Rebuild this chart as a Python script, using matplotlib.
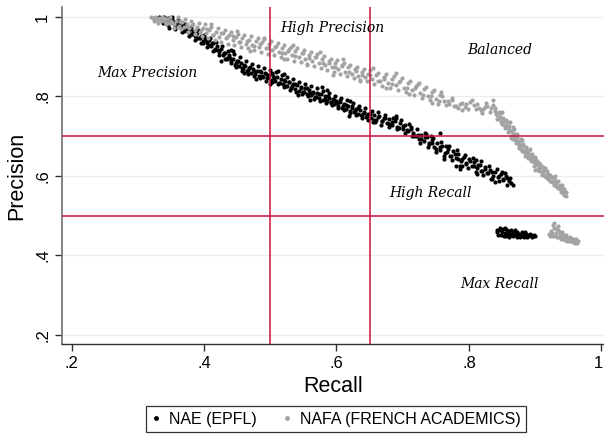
import matplotlib
matplotlib.use("Agg")
import matplotlib.pyplot as plt
import matplotlib.transforms as mtrans

# ---------------- data ----------------
# NAE (EPFL): main band
nae_x = [0.332,0.336,0.340,0.343,0.346,0.349,0.352,0.354,0.357,0.360,0.362,0.365,0.368,0.371,0.373,0.376,0.379,0.382,0.384,0.387,0.390,0.393,0.396,0.399,
         0.402,0.405,0.408,0.411,0.414,0.417,0.420,0.423,0.426,0.429,0.432,0.435,0.438,0.441,0.444,0.447,0.450,0.453,0.456,0.459,0.462,0.465,0.468,0.471,0.474,0.477,0.480,0.483,0.486,0.489,0.492,0.495,0.498,
         0.501,0.504,0.507,0.510,0.513,0.516,0.519,0.522,0.525,0.528,0.531,0.534,0.537,0.540,0.543,0.546,0.549,0.552,0.555,0.558,0.561,0.564,0.567,0.570,0.573,0.576,0.579,0.582,0.585,0.588,0.591,0.594,0.597,0.600,0.603,0.606,0.609,0.612,0.615,0.618,0.621,0.624,0.627,0.630,0.633,0.636,0.639,0.642,0.645,0.648,
         0.652,0.656,0.660,0.664,0.668,0.672,0.676,0.680,0.684,0.688,0.692,0.696,0.700,0.704,0.708,0.712,0.716,
         0.720,0.724,0.728,0.732,0.736,0.740,0.744,0.748,0.752,0.756,0.760,0.764,0.768,0.772,0.776,0.780,0.784,0.788,0.792,0.796,0.800,0.804,0.808,0.812,0.816,0.820,0.824,0.828,0.832,0.836,0.840,0.844,0.848,0.852,0.856,0.860,0.864,
         0.742,0.790,0.812,0.757,0.786,
         0.338,0.345,0.351,0.356,0.361,0.366,0.372,0.377,0.381,0.386,0.391,0.395,0.400,0.404,0.409,0.413,0.418,0.422,0.427,0.431,0.436,0.440,0.445,0.449,0.454,0.458,0.463,0.467,0.472,0.476,0.481,0.485,0.490,0.494,0.499,
         0.503,0.508,0.512,0.517,0.521,0.526,0.530,0.535,0.539,0.544,0.548,0.553,0.557,0.562,0.566,0.571,0.575,0.580,0.584,0.589,0.593,0.598,0.602,0.607,0.611,0.616,0.620,0.625,0.629,0.634,0.638,0.643,0.647,
         0.654,0.658,0.663,0.667,0.674,0.679,0.686,0.691,0.698,0.703,0.710,0.714,0.722,0.726,0.733,0.738,0.746,0.750,0.758,0.762,0.770,0.774,0.782,0.787,0.794,0.799,0.806,0.810,0.818,0.822,0.830,0.834,0.842,0.846,0.854,0.858,0.862,0.866]
nae_y = [1.000,0.998,1.000,0.993,0.997,0.988,0.992,0.982,0.986,0.979,0.990,0.975,0.981,0.968,0.974,0.962,0.970,0.958,0.965,0.952,0.960,0.946,0.953,0.940,
         0.947,0.934,0.941,0.927,0.935,0.919,0.926,0.912,0.920,0.903,0.910,0.896,0.903,0.889,0.895,0.880,0.888,0.876,0.884,0.870,0.877,0.864,0.872,0.860,0.868,0.856,0.864,0.852,0.861,0.849,0.858,0.846,0.855,
         0.842,0.851,0.838,0.848,0.835,0.843,0.830,0.840,0.826,0.836,0.822,0.831,0.818,0.828,0.814,0.823,0.811,0.820,0.807,0.816,0.803,0.812,0.799,0.809,0.796,0.805,0.792,0.801,0.788,0.797,0.784,0.793,0.780,0.789,0.776,0.785,0.772,0.781,0.768,0.776,0.764,0.772,0.760,0.768,0.756,0.765,0.753,0.761,0.749,0.757,
         0.745,0.753,0.741,0.750,0.737,0.746,0.734,0.742,0.728,0.737,0.724,0.733,0.719,0.728,0.714,0.722,0.708,
         0.700,0.692,0.703,0.688,0.697,0.680,0.690,0.673,0.683,0.666,0.676,0.658,0.668,0.651,0.662,0.645,0.655,0.638,0.648,0.632,0.642,0.625,0.635,0.619,0.628,0.612,0.622,0.607,0.616,0.601,0.610,0.596,0.604,0.592,0.600,0.586,0.582,
         0.701,0.625,0.606,0.707,0.618,
         0.985,0.979,0.999,0.970,0.993,0.962,0.983,0.951,0.974,0.943,0.966,0.935,0.955,0.925,0.947,0.914,0.938,0.903,0.926,0.893,0.915,0.883,0.906,0.873,0.898,0.865,0.889,0.857,0.882,0.851,0.876,0.846,0.871,0.840,0.866,
         0.836,0.862,0.830,0.855,0.824,0.849,0.817,0.843,0.811,0.837,0.806,0.832,0.800,0.825,0.793,0.820,0.789,0.814,0.783,0.808,0.778,0.802,0.771,0.797,0.766,0.790,0.758,0.784,0.753,0.776,0.746,0.771,0.741,
         0.764,0.735,0.760,0.729,0.753,0.724,0.746,0.717,0.741,0.709,0.731,0.700,0.718,0.684,0.709,0.672,0.696,0.661,0.686,0.650,0.674,0.640,0.664,0.626,0.652,0.620,0.645,0.610,0.637,0.603,0.624,0.592,0.617,0.586,0.607,0.578,0.594,0.576]
# NAE (EPFL): points filling the middle of the band, plus strays
nae_mid_x = [0.341,0.347,0.353,0.358,0.364,0.369,0.374,0.380,0.385,0.389,0.394,0.398,0.403,0.407,0.412,0.416,0.421,0.425,0.430,0.434,0.439,0.443,0.448,0.452,0.457,0.461,0.466,0.470,0.475,0.479,0.484,0.488,0.493,0.497,
             0.502,0.506,0.511,0.515,0.520,0.524,0.529,0.533,0.538,0.542,0.547,0.551,0.556,0.560,0.565,0.569,0.574,0.578,0.583,0.587,0.592,0.596,0.601,0.605,0.610,0.614,0.619,0.623,0.628,0.632,0.637,0.641,0.646,
             0.651,0.657,0.662,0.668,0.673,0.679,0.684,0.690,0.695,0.701,0.706,0.712,0.717,0.723,0.728,0.734,0.739,0.745,0.751,0.756,0.762,0.767,0.773,0.779,0.784,0.790,0.796,0.801,0.807,0.813,0.818,0.824,0.829,0.835,0.840,0.846,0.851,0.857,
             0.440,0.460,0.500,0.520,0.560,0.585,0.620,0.655,0.690,0.735,0.765,0.780,0.810,0.835,0.850]
nae_mid_y = [0.994,0.972,0.989,0.975,0.976,0.964,0.970,0.958,0.963,0.946,0.948,0.934,0.942,0.930,0.935,0.917,0.918,0.890,0.909,0.894,0.897,0.914,0.883,0.889,0.871,0.879,0.866,0.875,0.863,0.844,0.864,0.851,0.857,0.849,
             0.858,0.846,0.865,0.835,0.841,0.827,0.836,0.826,0.832,0.803,0.822,0.812,0.820,0.808,0.809,0.798,0.807,0.823,0.793,0.801,0.785,0.792,0.784,0.791,0.775,0.779,0.751,0.775,0.764,0.771,0.754,0.759,0.751,
             0.757,0.740,0.748,0.739,0.746,0.730,0.735,0.750,0.720,0.726,0.715,0.719,0.701,0.704,0.693,0.698,0.684,0.684,0.668,0.673,0.643,0.661,0.649,0.655,0.642,0.642,0.629,0.637,0.625,0.627,0.613,0.617,0.607,0.609,0.584,0.599,0.589,0.594,
             0.918,0.860,0.832,0.857,0.790,0.815,0.788,0.735,0.745,0.705,0.675,0.625,0.640,0.592,0.610]
# NAE (EPFL): low-precision cluster
nae_cluster_x = [0.842,0.846,0.848,0.851,0.854,0.856,0.859,0.862,0.864,0.867,0.870,0.872,0.875,0.878,0.880,0.883,0.886,0.889,0.892,0.895,0.898,0.850,0.858,0.866,0.874,0.882,
                 0.844,0.847,0.853,0.857,0.861,0.865,0.869,0.873,0.877,0.881,0.885,0.888,0.891,0.894,0.897,0.900,0.843,0.855,0.860,0.871]
nae_cluster_y = [0.458,0.463,0.452,0.467,0.456,0.448,0.461,0.453,0.465,0.450,0.458,0.446,0.455,0.450,0.458,0.447,0.453,0.449,0.455,0.447,0.451,0.459,0.455,0.458,0.452,0.452,
                 0.452,0.468,0.449,0.463,0.447,0.452,0.463,0.459,0.446,0.455,0.458,0.446,0.451,0.452,0.448,0.450,0.465,0.470,0.456,0.452]

# NAFA (FRENCH ACADEMICS): main band
nafa_x = [0.320,0.323,0.326,0.329,0.332,0.335,0.338,0.341,0.344,0.347,0.350,0.354,0.358,0.362,0.366,0.370,0.374,0.378,0.382,0.386,0.390,0.394,0.398,
          0.403,0.408,0.413,0.418,0.423,0.428,0.433,0.438,0.443,0.448,0.453,0.458,0.463,0.468,0.473,0.478,0.483,0.488,0.493,0.498,
          0.503,0.508,0.513,0.518,0.523,0.528,0.533,0.538,0.543,0.548,0.553,0.558,0.563,0.568,0.573,0.578,0.583,0.588,0.593,0.598,0.603,0.608,0.613,0.618,0.623,0.628,0.633,0.638,0.643,0.648,
          0.654,0.660,0.666,0.672,0.678,0.684,0.690,0.696,0.702,0.708,0.714,0.720,0.726,0.732,0.738,0.744,0.750,0.756,0.762,0.770,0.778,0.786,0.794,0.802,0.808,0.815,0.822,0.828,0.834,
          0.837,0.840,0.843,0.846,0.848,0.850,0.852,0.855,0.857,0.859,0.861,0.863,0.865,0.867,0.869,0.871,0.873,0.875,0.877,0.879,0.881,0.883,0.886,0.888,0.890,0.893,0.895,0.898,0.900,0.903,0.905,0.907,0.910,0.912,0.915,0.918,0.920,0.923,0.926,0.929,0.932,0.935,0.938,0.940,0.942,0.944,0.946,
          0.325,0.331,0.337,0.343,0.349,0.355,0.360,0.365,0.371,0.376,0.381,0.387,0.392,0.397,0.402,0.406,0.411,0.416,0.421,0.426,0.431,0.436,0.441,0.446,0.451,0.456,0.461,0.466,0.471,0.476,0.481,0.486,0.491,0.496,
          0.501,0.506,0.511,0.516,0.521,0.526,0.531,0.536,0.541,0.546,0.551,0.556,0.561,0.566,0.571,0.576,0.581,0.586,0.591,0.596,0.601,0.606,0.611,0.616,0.621,0.626,0.631,0.636,0.641,0.646,0.651,
          0.657,0.663,0.669,0.675,0.681,0.687,0.693,0.699,0.705,0.711,0.717,0.723,0.729,0.735,0.741,0.747,0.753,0.760,0.766,0.774,0.783,0.790,0.798,0.812,0.818,0.826,0.832,
          0.839,0.842,0.845,0.849,0.853,0.856,0.858,0.862,0.864,0.866,0.868,0.870,0.872,0.874,0.876,0.878,0.880,0.882,0.884,0.887,0.889,0.891,0.894,0.896,0.899,0.901,0.904,0.906,0.909,0.911,0.914,0.917,0.919,0.922,0.925,0.928,0.931,0.934,0.937,0.939,0.941,0.943,0.945]
nafa_y = [1.000,0.997,1.000,0.993,0.998,0.990,0.996,0.987,0.994,0.985,0.991,0.982,0.989,0.978,0.986,0.975,0.983,0.971,0.979,0.967,0.975,0.963,0.971,
          0.960,0.968,0.955,0.963,0.950,0.959,0.946,0.955,0.941,0.950,0.937,0.946,0.933,0.943,0.929,0.939,0.925,0.936,0.921,0.932,
          0.918,0.928,0.912,0.923,0.908,0.919,0.903,0.914,0.899,0.909,0.894,0.905,0.889,0.900,0.884,0.895,0.879,0.889,0.873,0.883,0.868,0.878,0.862,0.873,0.857,0.868,0.852,0.862,0.848,0.857,
          0.843,0.853,0.838,0.848,0.833,0.844,0.828,0.840,0.822,0.833,0.815,0.826,0.808,0.818,0.800,0.811,0.794,0.804,0.788,0.782,0.776,0.780,0.774,0.786,0.778,0.772,0.768,0.776,0.770,
          0.778,0.764,0.752,0.742,0.758,0.730,0.745,0.720,0.735,0.710,0.725,0.700,0.714,0.692,0.705,0.684,0.697,0.676,0.688,0.668,0.680,0.660,0.672,0.652,0.664,0.644,0.656,0.636,0.648,0.628,0.618,0.630,0.610,0.622,0.600,0.612,0.592,0.603,0.584,0.594,0.575,0.586,0.566,0.576,0.556,0.566,0.550,
          0.991,0.985,1.000,0.981,1.000,0.973,0.999,0.969,0.994,0.962,0.990,0.956,0.984,0.951,0.982,0.947,0.975,0.941,0.972,0.937,0.966,0.932,0.962,0.929,0.958,0.925,0.955,0.921,0.951,0.917,0.948,0.912,0.945,0.906,
          0.940,0.903,0.934,0.899,0.930,0.894,0.925,0.889,0.921,0.886,0.917,0.881,0.913,0.876,0.907,0.871,0.902,0.866,0.895,0.861,0.891,0.857,0.884,0.851,0.880,0.847,0.873,0.842,0.870,0.838,0.866,
          0.832,0.860,0.826,0.856,0.822,0.851,0.815,0.846,0.812,0.838,0.803,0.830,0.796,0.823,0.790,0.815,0.782,0.801,0.779,0.790,0.770,0.784,0.768,0.781,0.765,0.784,0.762,
          0.770,0.742,0.760,0.735,0.728,0.740,0.722,0.712,0.695,0.722,0.700,0.690,0.705,0.684,0.670,0.693,0.662,0.676,0.650,0.666,0.644,0.655,0.638,0.648,0.624,0.640,0.636,0.612,0.624,0.603,0.614,0.596,0.606,0.588,0.598,0.578,0.588,0.570,0.578,0.560,0.570,0.552,0.560]
# NAFA (FRENCH ACADEMICS): points filling the middle of the band, plus strays
nafa_mid_x = [0.328,0.339,0.352,0.363,0.375,0.384,0.395,0.405,0.414,0.425,0.434,0.444,0.455,0.465,0.476,0.485,0.497,0.507,0.518,0.527,0.538,0.549,0.558,0.569,0.579,0.589,0.598,0.609,0.619,0.630,0.639,0.650,
              0.662,0.672,0.684,0.695,0.707,0.718,0.730,0.742,0.755,0.768,0.781,0.795,0.810,0.824,
              0.841,0.847,0.851,0.856,0.860,0.866,0.870,0.874,0.879,0.884,0.888,0.893,0.897,0.902,0.907,0.912,0.917,0.921,0.927,0.932,0.936,0.940,
              0.360,0.410,0.450,0.470,0.490,0.520,0.535,0.555,0.575,0.595,0.610,0.635,0.655,0.675,0.690,0.710,0.725,0.745,0.758,0.775,0.790,0.805,0.820,0.836,
              0.850,0.862,0.868,0.880,0.892,0.900,0.915,0.930,0.947]
nafa_mid_y = [0.994,0.998,0.985,0.991,0.978,0.982,0.968,0.970,0.954,0.959,0.949,0.952,0.937,0.940,0.927,0.933,0.922,0.925,0.910,0.914,0.902,0.908,0.896,0.898,0.883,0.884,0.873,0.876,0.861,0.863,0.854,0.855,
              0.840,0.843,0.831,0.836,0.822,0.821,0.803,0.802,0.788,0.789,0.776,0.780,0.769,0.774,
              0.755,0.748,0.738,0.728,0.718,0.705,0.697,0.688,0.678,0.664,0.657,0.649,0.641,0.630,0.620,0.611,0.603,0.595,0.586,0.579,0.573,0.563,
              0.975,0.981,0.965,0.915,0.948,0.895,0.930,0.878,0.912,0.855,0.895,0.838,0.872,0.820,0.858,0.806,0.835,0.783,0.810,0.795,0.765,0.790,0.758,0.790,
              0.760,0.735,0.718,0.690,0.668,0.615,0.620,0.600,0.560]
# NAFA (FRENCH ACADEMICS): low-precision cluster
nafa_cluster_x = [0.921,0.924,0.926,0.928,0.929,0.931,0.933,0.935,0.937,0.939,0.941,0.943,0.945,0.947,0.949,0.951,0.953,0.955,0.957,0.959,0.961,0.963,0.934,0.940,0.950,
                  0.922,0.925,0.930,0.932,0.936,0.938,0.942,0.944,0.946,0.948,0.952,0.954,0.956,0.958,0.960,0.962,0.964,0.927]
nafa_cluster_y = [0.455,0.462,0.448,0.482,0.470,0.457,0.446,0.463,0.452,0.441,0.458,0.447,0.438,0.452,0.443,0.436,0.447,0.439,0.433,0.442,0.436,0.432,0.474,0.450,0.440,
                  0.448,0.456,0.450,0.466,0.445,0.459,0.440,0.452,0.444,0.437,0.444,0.435,0.442,0.437,0.432,0.440,0.435,0.476]

x_ticks = [0.2, 0.4, 0.6, 0.8, 1.0]
x_tick_labels = [".2", ".4", ".6", ".8", "1"]
y_ticks = [0.2, 0.4, 0.6, 0.8, 1.0]
y_tick_labels = [".2", ".4", ".6", ".8", "1"]
recall_cuts = [0.5, 0.65]
precision_cuts = [0.7, 0.5]
regions = [("High Precision", 0.593, 0.972), ("Balanced", 0.846, 0.917),
           ("Max Precision", 0.315, 0.860), ("High Recall", 0.742, 0.556),
           ("Max Recall", 0.846, 0.328)]
series_names = ["NAE (EPFL)", "NAFA (FRENCH ACADEMICS)"]

# ---------------- plot ----------------
plt.rcParams['font.family'] = ['Liberation Sans', 'DejaVu Sans']
fig = plt.figure(figsize=(6.04, 4.37), dpi=100)
ax = fig.add_axes([62/604, 1-344/437, 542/604, 337/437])
ax.set_xlim(0.1855, 1.004)
ax.set_ylim(0.177, 1.025)

for yt in y_ticks:
    ax.axhline(yt, color='#E8EFF1', lw=1.0, zorder=0)

gray = '#A3A3A3'
ax.scatter(nae_x + nae_mid_x + nae_cluster_x, nae_y + nae_mid_y + nae_cluster_y,
           s=9, c='black', linewidths=0, zorder=2)
ax.scatter(nafa_x + nafa_mid_x + nafa_cluster_x, nafa_y + nafa_mid_y + nafa_cluster_y,
           s=9, c=gray, linewidths=0, zorder=3)

red = '#C8143C'
for xc in recall_cuts:
    ax.axvline(xc, color=red, lw=1.1, zorder=4)
for yc in precision_cuts:
    ax.axhline(yc, color=red, lw=1.1, zorder=4)

for txt, tx, ty in regions:
    ax.text(tx, ty, txt, fontsize=10, style='italic', family='DejaVu Serif',
            ha='center', va='center', zorder=5)

for s in ['top', 'right']:
    ax.spines[s].set_visible(False)
ax.spines['left'].set_color('#707070')
ax.spines['left'].set_linewidth(1.2)
ax.spines['bottom'].set_color('#303030')
ax.spines['bottom'].set_linewidth(1.0)

ax.set_xticks(x_ticks)
ax.set_xticklabels(x_tick_labels, fontsize=12)
ax.set_yticks(y_ticks)
ax.set_yticklabels(y_tick_labels, fontsize=12, rotation=90, va='center')
ax.tick_params(axis='both', direction='out', length=5, width=1, color='#303030')
last = ax.get_xticklabels()[-1]
last.set_transform(last.get_transform() + mtrans.ScaledTranslation(-3/100, 0, fig.dpi_scale_trans))
ax.set_xlabel("Recall", fontsize=15.5, labelpad=4)
ax.set_ylabel("Precision", fontsize=15.5, labelpad=6)

h1 = plt.Line2D([], [], marker='o', ls='', color='black', markersize=2.5)
h2 = plt.Line2D([], [], marker='o', ls='', color=gray, markersize=2.5)
leg = fig.legend([h1, h2], series_names, loc='center', bbox_to_anchor=(0.556, 0.041),
                 ncol=2, fontsize=11.5, frameon=True, fancybox=False, edgecolor='black',
                 handlelength=0.6, handletextpad=0.5, columnspacing=1.6,
                 borderpad=0.35)
leg.get_frame().set_linewidth(0.9)

fig.savefig("out.png", dpi=100)
